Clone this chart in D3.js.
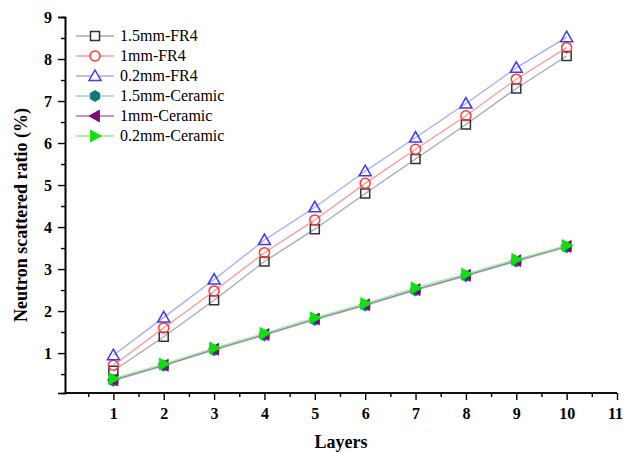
<!DOCTYPE html>
<html>
<head>
<meta charset="utf-8">
<script src="https://cdn.jsdelivr.net/npm/d3@7/dist/d3.min.js"></script>
<style>
  html, body { margin: 0; padding: 0; background: #fff; }
  svg { display: block; }
  text { font-family: "Liberation Serif", "Times New Roman", serif; }
</style>
</head>
<body>
<svg id="chart" width="624" height="452"></svg>
<script>
// Layers 1..10 and the scattered-neutron ratio (%) for each board type
const layers = [1, 2, 3, 4, 5, 6, 7, 8, 9, 10];
const fr4_15 = [0.58, 1.39, 2.26, 3.18, 3.95, 4.80, 5.62, 6.44, 7.30, 8.07];
const fr4_10 = [0.71, 1.60, 2.48, 3.39, 4.17, 5.04, 5.85, 6.65, 7.52, 8.27];
const fr4_02 = [0.95, 1.85, 2.75, 3.69, 4.47, 5.33, 6.13, 6.94, 7.79, 8.52];
const cer_15 = [0.34, 0.70, 1.07, 1.42, 1.79, 2.13, 2.49, 2.83, 3.18, 3.52];
const cer_10 = [0.36, 0.71, 1.09, 1.44, 1.81, 2.15, 2.51, 2.85, 3.20, 3.54];
const cer_02 = [0.39, 0.74, 1.12, 1.47, 1.84, 2.18, 2.55, 2.88, 3.23, 3.56];
const seriesNames = ["1.5mm-FR4", "1mm-FR4", "0.2mm-FR4", "1.5mm-Ceramic", "1mm-Ceramic", "0.2mm-Ceramic"];
const xTicks = [1, 2, 3, 4, 5, 6, 7, 8, 9, 10, 11];
const yTicks = [1, 2, 3, 4, 5, 6, 7, 8, 9];

const styles = [
  { line: "#a8a8a8", stroke: "#333333", fill: "none", shape: "square" },
  { line: "#ff9a9a", stroke: "#ff3b3b", fill: "none", shape: "circle" },
  { line: "#a8a8ff", stroke: "#3a3aff", fill: "none", shape: "triUp" },
  { line: "#9fd0cc", stroke: "#0a7a78", fill: "#0a7a78", shape: "hex" },
  { line: "#b070b0", stroke: "#7a0a7a", fill: "#7a0a7a", shape: "triLeft" },
  { line: "#8af08a", stroke: "#10e010", fill: "#10e010", shape: "triRight" }
];
const values = [fr4_15, fr4_10, fr4_02, cer_15, cer_10, cer_02];

const svg = d3.select("#chart");
const x = d3.scaleLinear().domain([0, 11]).range([63, 617]);
const y = d3.scaleLinear().domain([0.05, 9]).range([393, 17]);
const x0 = 65;

// marker path generator, centred at 0,0
function markerPath(shape) {
  const p = d3.path();
  if (shape === "square") {
    p.rect(-4.5, -4.5, 9, 9);
  } else if (shape === "circle") {
    p.arc(0, 0, 5, 0, 2 * Math.PI);
  } else if (shape === "triUp") {
    p.moveTo(0, -6); p.lineTo(6, 4.5); p.lineTo(-6, 4.5); p.closePath();
  } else if (shape === "hex") {
    for (let i = 0; i < 6; i++) {
      const a = Math.PI / 6 + i * Math.PI / 3;
      const px = 5.5 * Math.cos(a), py = 5.5 * Math.sin(a);
      if (i === 0) p.moveTo(px, py); else p.lineTo(px, py);
    }
    p.closePath();
  } else if (shape === "triLeft") {
    p.moveTo(-6, 0); p.lineTo(4.5, -6); p.lineTo(4.5, 6); p.closePath();
  } else if (shape === "triRight") {
    p.moveTo(6.5, 0); p.lineTo(-4.5, -6); p.lineTo(-4.5, 6); p.closePath();
  }
  return p.toString();
}

// axes
const yAxis = d3.axisLeft(y).tickValues(yTicks).tickSize(7).tickPadding(6).tickFormat(d3.format("d"));
const yMinor = d3.axisLeft(y).tickValues(d3.range(0.5, 9, 1)).tickSize(4).tickFormat("");
const xAxis = d3.axisBottom(x).tickValues(xTicks).tickSize(7).tickPadding(8).tickFormat(d3.format("d"));
const xMinor = d3.axisBottom(x).tickValues(d3.range(0.5, 11, 1)).tickSize(4).tickFormat("");

function styleAxis(g) {
  g.selectAll(".domain").attr("stroke", "#000").attr("stroke-width", 1.6);
  g.selectAll(".tick line").attr("stroke", "#000").attr("stroke-width", 1.4);
  g.selectAll("text").attr("fill", "#000").style("font-family", "'Liberation Serif', serif")
    .style("font-weight", "bold").style("font-size", "16px");
}

svg.append("g").attr("transform", `translate(${x0},0)`).call(yMinor).call(styleAxis);
svg.append("g").attr("transform", `translate(${x0},0)`).call(yAxis).call(styleAxis);
const gx = svg.append("g").attr("transform", "translate(0,393)");
gx.call(xMinor).call(styleAxis);
const gx2 = svg.append("g").attr("transform", "translate(0,393)");
gx2.call(xAxis).call(styleAxis);
// both x-axis domain paths start at the y axis line
svg.selectAll("g").filter(function () { return this === gx.node() || this === gx2.node(); })
  .select(".domain").attr("d", `M${x0},0H${x(11)}`);
// keep the last label inside the frame
gx2.selectAll(".tick text").filter(d => d === 11).attr("dx", "-2");

// axis titles
svg.append("text")
  .attr("transform", "translate(27,215) rotate(-90)")
  .attr("text-anchor", "middle")
  .style("font-weight", "bold").style("font-size", "18px")
  .text("Neutron scattered ratio (%)");
svg.append("text")
  .attr("x", 341).attr("y", 448)
  .attr("text-anchor", "middle")
  .style("font-weight", "bold").style("font-size", "18px")
  .text("Layers");

// series lines and markers
const line = d3.line().x((d, i) => x(layers[i])).y(d => y(d));
values.forEach((vals, si) => {
  const st = styles[si];
  const g = svg.append("g");
  g.append("path").datum(vals).attr("d", line)
    .attr("fill", "none").attr("stroke", st.line).attr("stroke-width", 1.3);
  g.selectAll("path.m").data(vals).enter().append("path").attr("class", "m")
    .attr("transform", (d, i) => `translate(${x(layers[i])},${y(d)})`)
    .attr("d", markerPath(st.shape))
    .attr("fill", st.fill === "none" ? "none" : st.fill)
    .attr("stroke", st.stroke).attr("stroke-width", st.fill === "none" ? 1.5 : 0.8);
});

// legend
const legend = svg.append("g");
seriesNames.forEach((name, i) => {
  const st = styles[i];
  const ly = 36 + i * 20;
  legend.append("line").attr("x1", 76).attr("x2", 114).attr("y1", ly).attr("y2", ly)
    .attr("stroke", st.line).attr("stroke-width", 1.3);
  legend.append("path").attr("transform", `translate(95,${ly})`).attr("d", markerPath(st.shape))
    .attr("fill", st.fill === "none" ? "#fff" : st.fill)
    .attr("stroke", st.stroke).attr("stroke-width", st.fill === "none" ? 1.5 : 0.8);
  legend.append("text").attr("x", 120).attr("y", ly + 5)
    .style("font-size", "16px").attr("fill", "#000").text(name);
});
</script>
</body>
</html>
